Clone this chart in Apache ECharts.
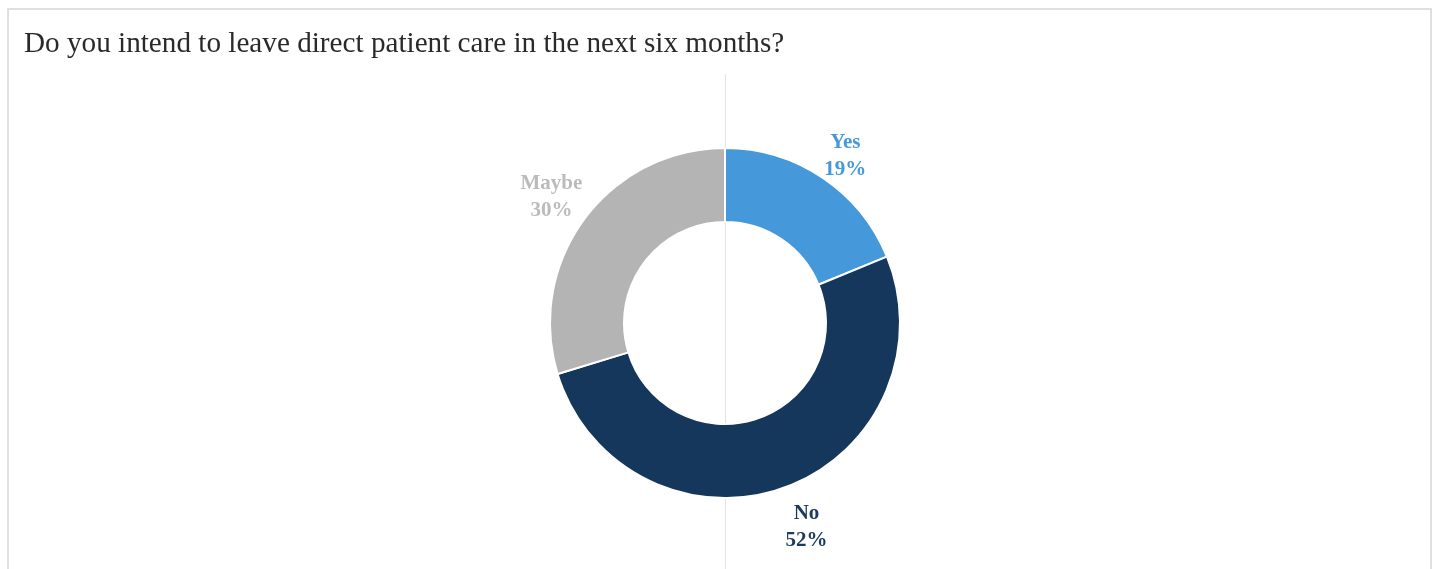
<!DOCTYPE html>
<html>
<head>
<meta charset="utf-8">
<title>Do you intend to leave direct patient care in the next six months?</title>
<script src="https://cdn.jsdelivr.net/npm/echarts@6/dist/echarts.min.js"></script>
<style>
  html, body { margin: 0; padding: 0; background: #ffffff; overflow: hidden; }
  #frame {
    position: absolute; left: 7px; top: 8px; width: 1425px; height: 600px;
    border: 2px solid #e0e0e0; box-sizing: border-box;
  }
  #chart { position: absolute; left: 0; top: 0; width: 1439px; height: 569px; }
</style>
</head>
<body>
<div id="frame"></div>
<div id="chart"></div>
<script>
// Survey answers and their shares (percent of respondents)
const categories = ['Yes', 'No', 'Maybe'];
const shares = [19, 52, 30];
const sliceColors = ['#4599DA', '#15375B', '#B4B4B4'];
const labelColors = ['#4599DA', '#1A3A5E', '#BBBBBB'];
// small nudges so each label sits clear of its slice
const labelNudges = [[0, 12], [9, 1], [0, 3]];

const titleText = 'Do you intend to leave direct patient care in the next six months?';
const serif = '"Liberation Serif", "Times New Roman", Times, serif';

const center = [725, 323];

const ringData = categories.map((name, i) => ({
  name,
  value: shares[i],
  itemStyle: { color: sliceColors[i] }
}));

const labelData = categories.map((name, i) => ({
  name,
  value: shares[i],
  label: { color: labelColors[i], offset: labelNudges[i] }
}));

const chart = echarts.init(document.getElementById('chart'), null, { renderer: 'canvas' });

chart.setOption({
  animation: false,
  title: {
    text: titleText,
    left: 24,
    top: 27,
    padding: 0,
    textStyle: {
      fontFamily: serif,
      fontSize: 29.2,
      fontWeight: 'normal',
      color: '#2a2a2a',
      lineHeight: 34
    }
  },
  graphic: [{
    type: 'line',
    z: -1,
    silent: true,
    shape: { x1: 725.5, y1: 74, x2: 725.5, y2: 569 },
    style: { stroke: '#e3e3e3', lineWidth: 1 }
  }],
  series: [
    {
      type: 'pie',
      name: 'answers',
      center: center,
      radius: [101, 175],
      startAngle: 90,
      clockwise: true,
      silent: true,
      label: { show: false },
      labelLine: { show: false },
      itemStyle: { borderColor: '#ffffff', borderWidth: 2 },
      data: ringData
    },
    {
      // transparent ring that carries the category labels just outside the donut
      type: 'pie',
      name: 'labels',
      center: center,
      radius: [202, 224],
      startAngle: 90,
      clockwise: true,
      silent: true,
      itemStyle: { color: 'rgba(0,0,0,0)' },
      labelLine: { show: false },
      label: {
        show: true,
        position: 'inside',
        formatter: '{b}\n{c}%',
        fontFamily: serif,
        fontSize: 21,
        fontWeight: 'bold',
        lineHeight: 27,
        align: 'center'
      },
      data: labelData
    }
  ]
});
</script>
</body>
</html>
